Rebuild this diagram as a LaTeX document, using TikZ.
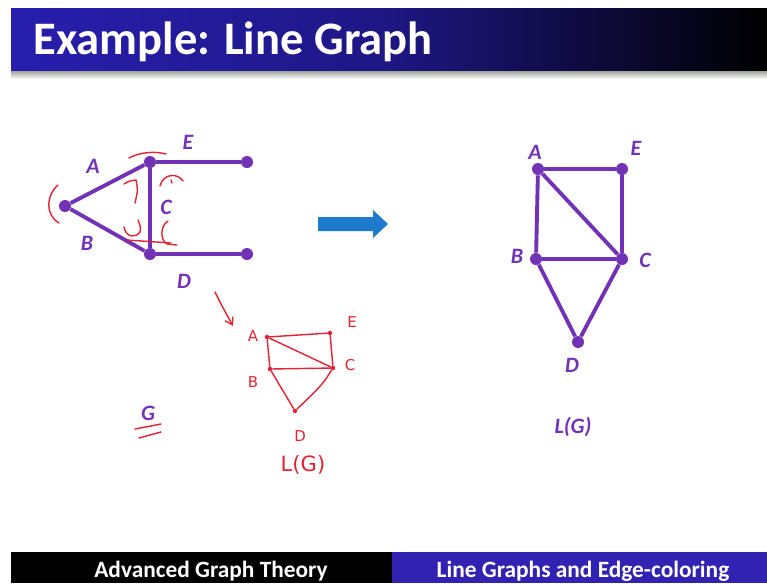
\documentclass[tikz,border=0pt]{standalone}
\usepackage{fontspec}
\setmainfont{Carlito}
\newfontfamily\handfont{DejaVu Sans}
\usetikzlibrary{arrows.meta,calc}
\definecolor{titleblue}{RGB}{40,30,175}
\definecolor{footblue}{RGB}{50,34,178}
\definecolor{graphpurple}{RGB}{114,50,182}
\definecolor{inkred}{RGB}{228,34,52}
\definecolor{arrowblue}{RGB}{30,122,202}
\definecolor{shadowgray}{RGB}{160,165,155}

\begin{document}
\begin{tikzpicture}[
    x=0.02cm, y=-0.02cm,
    vtx/.style={circle, fill=graphpurple, inner sep=0pt, minimum size=0.24cm},
    edge/.style={draw=graphpurple, line width=2.2pt},
    lbl/.style={font=\fontsize{12.5}{14}\selectfont\bfseries\itshape, text=graphpurple},
    ink/.style={draw=inkred, line width=0.8pt, line cap=round, line join=round},
    inkdot/.style={circle, fill=inkred, inner sep=0pt, minimum size=0.09cm},
    inklbl/.style={font=\handfont\fontsize{8.5}{9}\selectfont, text=inkred},
    foottext/.style={font=\fontsize{13.3}{15}\selectfont\bfseries, text=white, anchor=base}
]
\useasboundingbox (0,0) rectangle (767,583);
\fill[white] (0,0) rectangle (767,583);

% Title bar
\shade[left color=titleblue, right color=black, middle color=titleblue!75!black] (11,8) rectangle (767,71);
\shade[top color=shadowgray, bottom color=white] (11,71) rectangle (767,79);
\node[font=\fontsize{26.5}{30}\selectfont\bfseries, text=white, anchor=base west, inner sep=0pt] (title) at (33,54) {Example: Line Graph};

% Footer
\fill[black] (11,552) rectangle (392,583);
\fill[footblue] (392,552) rectangle (767,583);
\node[foottext] (footleft) at (211,577) {Advanced Graph Theory};
\node[foottext] (footright) at (583,577) {Line Graphs and Edge-coloring};

% Graph G
\node[vtx] (g1) at (65,206) {};
\node[vtx] (g2) at (150,162) {};
\node[vtx] (g3) at (150,254) {};
\node[vtx] (g4) at (247,162) {};
\node[vtx] (g5) at (247,254) {};
\draw[edge] (g1) -- (g2);
\draw[edge] (g1) -- (g3);
\draw[edge] (g2) -- (g3);
\draw[edge] (g2) -- (g4);
\draw[edge] (g3) -- (g5);
\node[lbl] (ga) at (93,166) {A};
\node[lbl] (gb) at (87,243) {B};
\node[lbl] (gc) at (166,207) {C};
\node[lbl] (gd) at (184,281) {D};
\node[lbl] (ge) at (188,142) {E};
\node[lbl] (gname) at (148,413) {G};

% Arrow
\fill[arrowblue] (318,217) -- (373,217) -- (373,210) -- (388,224) -- (373,238) -- (373,231) -- (318,231) -- cycle;

% Line graph L(G)
\node[vtx] (la) at (538,169) {};
\node[vtx] (le) at (622,169) {};
\node[vtx] (lb) at (536,259) {};
\node[vtx] (lc) at (622,259) {};
\node[vtx] (ld) at (578,342) {};
\draw[edge] (la) -- (le);
\draw[edge] (la) -- (lb);
\draw[edge] (la) -- (lc);
\draw[edge] (le) -- (lc);
\draw[edge] (lb) -- (lc);
\draw[edge] (lb) -- (ld);
\draw[edge] (lc) -- (ld);
\node[lbl] (laname) at (535,152) {A};
\node[lbl] (lename) at (636,148) {E};
\node[lbl] (lbname) at (517,256) {B};
\node[lbl] (lcname) at (645,260) {C};
\node[lbl] (ldname) at (572,365) {D};
\node[lbl] (lgname) at (573,427) {L(G)};

% Red ink marks on G
\draw[ink] (58,185) .. controls (46,195) and (45,215) .. (59,223);
\draw[ink] (129,158) .. controls (140,152) and (155,151) .. (166,154);
\draw[ink] (124,184) .. controls (129,181) .. (136,180) .. controls (138,190) .. (135,203);
\draw[ink] (160,186) .. controls (163,174) and (177,172) .. (183,181);
\draw[ink] (171,180) -- (172,183);
\draw[ink] (124,227) .. controls (126,238) and (136,238) .. (140,232) .. controls (141,228) .. (138,220);
\draw[ink] (127,240) -- (171,243);
\draw[ink] (168,221) .. controls (160,226) and (160,240) .. (167,244) -- (177,245);
\draw[ink] (135,429) -- (161,424);
\draw[ink] (139,438) -- (161,432);

% Red sketch of L(G)
\draw[ink, -{Straight Barb[length=4pt, width=5pt]}] (215,292) .. controls (222,306) .. (233,326);
\node[inkdot] (ra) at (267,337) {};
\node[inkdot] (re) at (330,333) {};
\node[inkdot] (rb) at (270,369) {};
\node[inkdot] (rc) at (333,368) {};
\node[inkdot] (rd) at (295,411) {};
\draw[ink] (ra) -- (re);
\draw[ink] (re) -- (rc);
\draw[ink] (ra) -- (rc);
\draw[ink] (ra) -- (rb);
\draw[ink] (rb) -- (rc);
\draw[ink] (rb) -- (rd);
\draw[ink] (rc) .. controls (322,385) .. (rd);
\node[inklbl] (raname) at (253,336) {A};
\node[inklbl] (rename) at (352,322) {E};
\node[inklbl] (rbname) at (253,382) {B};
\node[inklbl] (rcname) at (350,365) {C};
\node[inklbl] (rdname) at (300,436) {D};
\node[font=\handfont\fontsize{12}{13}\selectfont, text=inkred] (rgname) at (303,465) {L(G)};
\end{tikzpicture}
\end{document}
